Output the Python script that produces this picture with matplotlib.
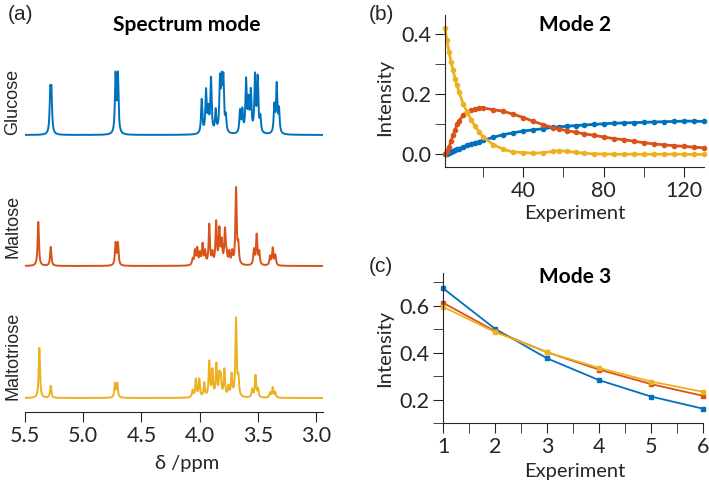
import numpy as np
import matplotlib
matplotlib.use("Agg")
import matplotlib.pyplot as plt

# spectrum peaks: position (ppm) and height (px above baseline)
glc_ppm = [5.283, 5.273, 4.722, 4.702, 3.982, 3.945, 3.925, 3.902, 3.862, 3.825, 3.81, 3.796, 3.775,
           3.653, 3.633, 3.601, 3.58, 3.56, 3.524, 3.501, 3.478, 3.358, 3.338, 3.318]
glc_h = [38, 38, 58, 58, 34, 42, 22, 54, 22, 50, 45, 50, 15,
         22, 22, 52, 30, 40, 56, 54, 15, 27, 48, 23]

mal_ppm = [5.386, 5.279, 4.722, 4.702, 4.06, 4.04, 4.02, 3.997, 3.975, 3.953, 3.917, 3.89, 3.858,
           3.83, 3.81, 3.782, 3.768, 3.745, 3.72, 3.687, 3.668, 3.533, 3.51, 3.488, 3.395, 3.372, 3.35]
mal_h = [44, 19, 22, 22, 6, 14, 16, 11, 20, 13, 40, 11, 42,
         34, 22, 34, 9, 12, 12, 76, 18, 15, 30, 13, 9, 17, 10]

mtr_ppm = [5.377, 5.279, 4.727, 4.707, 4.06, 4.032, 4.003, 3.96, 3.917, 3.89, 3.856, 3.83, 3.818,
           3.787, 3.752, 3.725, 3.687, 3.667, 3.548, 3.52, 3.498, 3.395, 3.372, 3.35]
mtr_h = [50, 12, 14, 14, 7, 18, 18, 14, 35, 26, 32, 20, 18,
         27, 10, 22, 78, 17, 8, 22, 8, 5, 10, 5]

exp_b = [1, 2, 3, 4, 5, 6, 7, 8, 10, 12, 14, 16, 18, 20, 25, 30, 35, 40, 45, 50, 55, 58, 62,
         66, 70, 75, 80, 85, 90, 95, 100, 105, 110, 115, 120, 125, 130]
blue_b = [0.0, 0.003, 0.006, 0.009, 0.012, 0.014, 0.017, 0.019, 0.025, 0.030, 0.035, 0.039, 0.043,
          0.047, 0.057, 0.066, 0.072, 0.078, 0.082, 0.086, 0.090, 0.092, 0.094, 0.096, 0.098, 0.100,
          0.102, 0.104, 0.105, 0.106, 0.107, 0.108, 0.109, 0.110, 0.111, 0.111, 0.110]
red_b = [0.0, 0.012, 0.025, 0.045, 0.064, 0.082, 0.10, 0.112, 0.13, 0.140, 0.147, 0.152, 0.155,
         0.155, 0.149, 0.144, 0.134, 0.123, 0.110, 0.099, 0.089, 0.084, 0.079, 0.074, 0.069, 0.064,
         0.058, 0.053, 0.049, 0.044, 0.039, 0.035, 0.032, 0.029, 0.027, 0.024, 0.022]
yel_b = [0.42, 0.381, 0.342, 0.309, 0.281, 0.253, 0.23, 0.208, 0.169, 0.142, 0.116, 0.094, 0.075,
         0.058, 0.033, 0.017, 0.008, 0.006, 0.004, 0.006, 0.010, 0.012, 0.010, 0.007, 0.004, 0.002,
         0.001, 0.001, 0.0, 0.001, 0.0, 0.001, 0.0, 0.001, 0.0, 0.0, 0.0]

exp_c = [1, 2, 3, 4, 5, 6]
blue_c = [0.675, 0.502, 0.376, 0.283, 0.213, 0.161]
red_c = [0.613, 0.492, 0.402, 0.328, 0.266, 0.216]
yel_c = [0.596, 0.488, 0.402, 0.335, 0.277, 0.233]

C_BLUE = '#0072BD'
C_RED = '#D95319'
C_YEL = '#EDB120'
INK = '#262626'
TXT = 'Lato'
FS = 15.5
FL = 14.5

W, H = 709, 484
fig = plt.figure(figsize=(W / 100, H / 100), dpi=100)


def box(l, t, r, b):
    return [l / W, 1 - b / H, (r - l) / W, (b - t) / H]


def ftext(x, y, s, **kw):
    fig.text(x / W, 1 - y / H, s, **kw)


def spectrum(x, ppm, h, hw=0.0065):
    y = np.zeros_like(x)
    for p, a in zip(ppm, h):
        y += a * hw ** 2 / ((x - p) ** 2 + hw ** 2)
    return y


# (a) spectra
ax = fig.add_axes(box(25, 40, 323, 412))
x = np.linspace(5.5, 2.94, 4000)
offsets = [277, 146, 14]
for ppm, h, c, off in [(glc_ppm, glc_h, C_BLUE, offsets[0]),
                       (mal_ppm, mal_h, C_RED, offsets[1]),
                       (mtr_ppm, mtr_h, C_YEL, offsets[2])]:
    ax.plot(x, spectrum(x, ppm, h) + off, color=c, lw=1.4)
ax.set_xlim(5.5, 2.94)
ax.set_ylim(0, 372)
ax.set_xticks([5.5, 5.0, 4.5, 4.0, 3.5, 3.0])
ax.set_xticklabels(['5.5', '5.0', '4.5', '4.0', '3.5', '3.0'])
for s in ['left', 'right', 'top']:
    ax.spines[s].set_visible(False)
ax.spines['bottom'].set_color(INK)
ax.set_yticks([])
ax.tick_params(axis='x', direction='out', length=7, color=INK, labelsize=FS, labelcolor=INK, pad=3)
for lab in ax.get_xticklabels():
    lab.set_family(TXT)

ftext(13, 102, 'Glucose', rotation=90, ha='center', va='center', family='Liberation Sans', fontsize=13, color=INK)
ftext(13, 226, 'Maltose', rotation=90, ha='center', va='center', family='Liberation Sans', fontsize=13, color=INK)
ftext(13, 356, 'Maltotriose', rotation=90, ha='center', va='center', family='Liberation Sans', fontsize=13, color=INK)
ftext(187, 25, 'Spectrum mode', ha='center', va='center', family=TXT, fontweight='bold', fontsize=15, color='black')
ftext(187, 463, 'δ /ppm', ha='center', va='center', family=TXT, fontsize=FL, color=INK)
ftext(8, 15, '(a)', ha='left', va='center', family='Liberation Sans', fontsize=15, color=INK)


def style(ax):
    for s in ['right', 'top']:
        ax.spines[s].set_visible(False)
    for s in ['left', 'bottom']:
        ax.spines[s].set_color(INK)
    ax.tick_params(which='both', direction='out', length=7, color=INK, labelsize=FS, labelcolor=INK, pad=3)
    for lab in ax.get_xticklabels() + ax.get_yticklabels():
        lab.set_family(TXT)


# (b) mode 2
bx = fig.add_axes(box(445, 15, 704, 167))
for vals, c in [(blue_b, C_BLUE), (red_b, C_RED), (yel_b, C_YEL)]:
    bx.plot(exp_b, vals, color=c, lw=2, marker='o', ms=3, clip_on=False)
bx.set_xlim(1, 130)
bx.set_ylim(-0.042, 0.465)
bx.set_xticks([40, 80, 120])
bx.set_xticks([20, 60, 100], minor=True)
bx.set_yticks([0.0, 0.2, 0.4])
bx.set_yticklabels(['0.0', '0.2', '0.4'])
bx.set_yticks([0.1, 0.3], minor=True)
style(bx)
ftext(575, 25, 'Mode 2', ha='center', va='center', family=TXT, fontweight='bold', fontsize=15, color='black')
ftext(575, 214, 'Experiment', ha='center', va='center', family=TXT, fontsize=FL, color=INK)
ftext(385, 97, 'Intensity', rotation=90, ha='center', va='center', family=TXT, fontsize=FL, color=INK)
ftext(369, 15, '(b)', ha='left', va='center', family='Liberation Sans', fontsize=15, color=INK)

# (c) mode 3
cx = fig.add_axes(box(443, 273, 703, 423))
for vals, c in [(blue_c, C_BLUE), (red_c, C_RED), (yel_c, C_YEL)]:
    cx.plot(exp_c, vals, color=c, lw=1.3, marker='s', ms=3, clip_on=False)
cx.set_xlim(1, 6)
cx.set_ylim(0.1, 0.74)
cx.set_xticks([1, 2, 3, 4, 5, 6])
cx.set_xticks([1.5, 2.5, 3.5, 4.5, 5.5], minor=True)
cx.set_yticks([0.2, 0.4, 0.6])
cx.set_yticks([0.1, 0.3, 0.5, 0.7], minor=True)
style(cx)
ftext(575, 277, 'Mode 3', ha='center', va='center', family=TXT, fontweight='bold', fontsize=15, color='black')
ftext(575, 472, 'Experiment', ha='center', va='center', family=TXT, fontsize=FL, color=INK)
ftext(385, 348, 'Intensity', rotation=90, ha='center', va='center', family=TXT, fontsize=FL, color=INK)
ftext(369, 266, '(c)', ha='left', va='center', family='Liberation Sans', fontsize=15, color=INK)

fig.savefig('out.png', dpi=100)
